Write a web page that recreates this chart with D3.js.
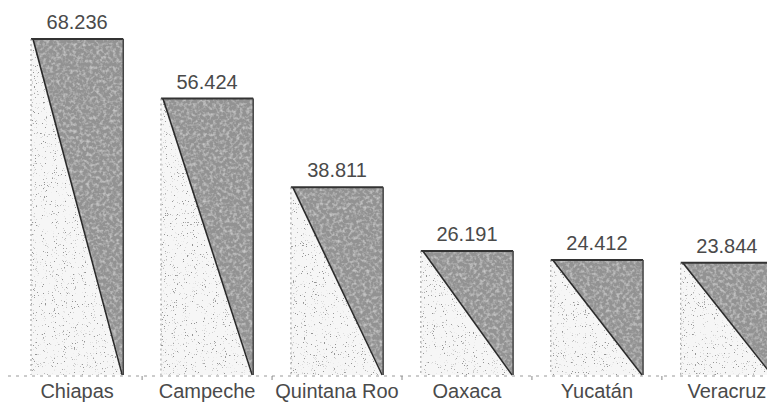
<!DOCTYPE html>
<html>
<head>
<meta charset="utf-8">
<script src="https://cdn.jsdelivr.net/npm/d3@7/dist/d3.min.js"></script>
<style>
  html, body { margin: 0; padding: 0; background: #fff; }
  svg { display: block; }
  text { font-family: "Liberation Sans", Arial, sans-serif; fill: #4a4a4a; }
</style>
</head>
<body>
<svg id="chart" width="767" height="412"></svg>
<script>
const categories = ["Chiapas", "Campeche", "Quintana Roo", "Oaxaca", "Yucatán", "Veracruz"];
const values = [68.236, 56.424, 38.811, 26.191, 24.412, 23.844];
const valueLabels = ["68.236", "56.424", "38.811", "26.191", "24.412", "23.844"];

const svg = d3.select("#chart");
const W = 767, H = 412;
const baseY = 375;

const x = d3.scaleBand().domain(categories).range([31, 773]).paddingInner(0.29).paddingOuter(0);
const y = d3.scaleLinear().domain([0, 68.236]).range([383, 39]);

const defs = svg.append("defs");
// sparse speckle filter for the light part
const f1 = defs.append("filter").attr("id", "speckle").attr("x", 0).attr("y", 0).attr("width", "100%").attr("height", "100%");
f1.append("feTurbulence").attr("type", "fractalNoise").attr("baseFrequency", 0.9).attr("numOctaves", 2).attr("seed", 4).attr("result", "noise");
f1.append("feColorMatrix").attr("in", "noise").attr("type", "matrix")
  .attr("values", "0 0 0 0 0.3  0 0 0 0 0.3  0 0 0 0 0.3  10 0 0 0 -6.6").attr("result", "dots");
f1.append("feComposite").attr("in", "dots").attr("in2", "SourceGraphic").attr("operator", "in").attr("result", "d2");
const m1 = f1.append("feMerge");
m1.append("feMergeNode").attr("in", "SourceGraphic");
m1.append("feMergeNode").attr("in", "d2");

// mottled filter for the dark part
const f2 = defs.append("filter").attr("id", "mottle").attr("x", 0).attr("y", 0).attr("width", "100%").attr("height", "100%");
f2.append("feTurbulence").attr("type", "fractalNoise").attr("baseFrequency", 0.3).attr("numOctaves", 2).attr("seed", 7).attr("result", "noise");
f2.append("feColorMatrix").attr("in", "noise").attr("type", "matrix")
  .attr("values", "0 0 0 0 0.72  0 0 0 0 0.72  0 0 0 0 0.72  1.6 0 0 0 -0.7").attr("result", "spots");
f2.append("feComposite").attr("in", "spots").attr("in2", "SourceGraphic").attr("operator", "in").attr("result", "s2");
const m2 = f2.append("feMerge");
m2.append("feMergeNode").attr("in", "SourceGraphic");
m2.append("feMergeNode").attr("in", "s2");

svg.append("rect").attr("width", W).attr("height", H).attr("fill", "#fff");

// baseline
svg.append("line").attr("x1", 8).attr("x2", W).attr("y1", baseY + 1).attr("y2", baseY + 1)
  .attr("stroke", "#999").attr("stroke-width", 1).attr("stroke-dasharray", "3,5");

const step = x.step(), bw = x.bandwidth();
// ticks between bars
svg.selectAll(".tick").data(categories.slice(1)).enter().append("line")
  .attr("x1", d => x(d) - (step - bw) / 2).attr("x2", d => x(d) - (step - bw) / 2)
  .attr("y1", baseY + 1).attr("y2", baseY + 5)
  .attr("stroke", "#888").attr("stroke-width", 1);

const g = svg.selectAll(".bar").data(categories).enter().append("g").attr("class", "bar");

g.append("rect")
  .attr("x", d => x(d)).attr("y", (d, i) => y(values[i]))
  .attr("width", bw).attr("height", (d, i) => baseY - y(values[i]))
  .attr("fill", "#f6f6f6").attr("filter", "url(#speckle)");

g.append("path")
  .attr("d", (d, i) => {
    const x0 = x(d) + 2, x1 = x(d) + bw, t = y(values[i]);
    return `M${x0},${t}L${x1},${t}L${x1},${baseY}Z`;
  })
  .attr("fill", "#929292").attr("filter", "url(#mottle)");

// diagonal edge
g.append("line")
  .attr("x1", d => x(d) + 2).attr("y1", (d, i) => y(values[i]))
  .attr("x2", d => x(d) + bw - 1).attr("y2", baseY)
  .attr("stroke", "#2a2a2a").attr("stroke-width", 1.6);
// top edge
g.append("line")
  .attr("x1", d => x(d)).attr("x2", d => x(d) + bw)
  .attr("y1", (d, i) => y(values[i])).attr("y2", (d, i) => y(values[i]))
  .attr("stroke", "#333").attr("stroke-width", 2);
// right edge
g.append("line")
  .attr("x1", d => x(d) + bw).attr("x2", d => x(d) + bw)
  .attr("y1", (d, i) => y(values[i])).attr("y2", baseY)
  .attr("stroke", "#444").attr("stroke-width", 1.5);
// left edge
g.append("line")
  .attr("x1", d => x(d)).attr("x2", d => x(d))
  .attr("y1", (d, i) => y(values[i])).attr("y2", baseY)
  .attr("stroke", "#999").attr("stroke-width", 1).attr("stroke-dasharray", "2,3");

// value labels
g.append("text")
  .attr("x", d => x(d) + bw / 2)
  .attr("y", (d, i) => y(values[i]) - 10)
  .attr("text-anchor", "middle")
  .attr("font-size", 20)
  .text((d, i) => valueLabels[i]);

// category labels
g.append("text")
  .attr("x", d => x(d) + bw / 2)
  .attr("y", 398)
  .attr("text-anchor", "middle")
  .attr("font-size", 20)
  .text(d => d);
</script>
</body>
</html>
